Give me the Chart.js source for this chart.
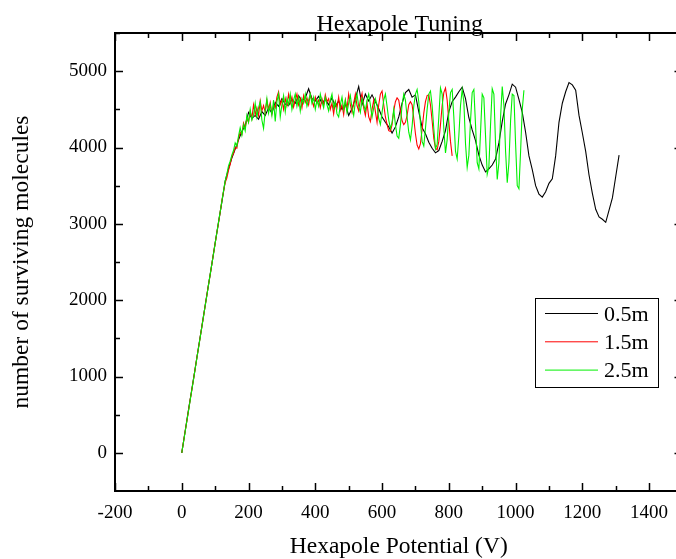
<!DOCTYPE html>
<html><head><meta charset="utf-8">
<script src="https://cdn.jsdelivr.net/npm/chart.js@4/dist/chart.umd.min.js"></script>
<style>html,body{margin:0;padding:0;overflow:hidden;background:#fff}canvas{display:block}</style>
</head><body>
<canvas id="c" width="700" height="559" style="width:700px;height:559px"></canvas>
<script>
// ---- data ----
const chartTitle = 'Hexapole Tuning';
const xAxisTitle = 'Hexapole Potential (V)';
const yAxisTitle = 'number of surviving molecules';
const seriesNames = ['0.5m', '1.5m', '2.5m'];
const seriesColors = ['#000000', '#ff0000', '#00f000'];
const xTickValues = [-200, 0, 200, 400, 600, 800, 1000, 1200, 1400];
const yTickValues = [0, 1000, 2000, 3000, 4000, 5000];
// sampling step of each scan (V)
const stepBlack = 10, stepRed = 5, stepGreen = 5;

const black = [0,280,560,830,1100,1380,1650,1930,2200,2470,
2750,3020,3280,3560,3720,3860,3980,4100,4210,4290,
4460,4380,4420,4370,4470,4420,4520,4450,4590,4540,
4640,4570,4550,4630,4580,4680,4610,4650,4770,4640,
4610,4670,4580,4630,4560,4650,4540,4610,4500,4570,
4420,4510,4640,4800,4560,4700,4610,4690,4600,4510,
4400,4330,4270,4190,4270,4400,4580,4720,4760,4660,
4690,4470,4260,4180,4070,3990,3930,3960,4080,4220,
4470,4600,4660,4730,4790,4640,4390,4230,4090,3900,
3770,3680,3720,3770,3850,4060,4340,4570,4690,4830,
4790,4630,4460,4200,3890,3710,3500,3390,3350,3420,
3530,3590,3890,4330,4580,4730,4850,4820,4750,4420,
4190,3950,3640,3400,3190,3090,3060,3020,3180,3340,
3620,3900];

const red = [0,140,280,410,550,690,820,960,1100,1240,
1370,1510,1650,1780,1920,2060,2200,2330,2470,2610,
2740,2880,3010,3150,3300,3420,3540,3600,3700,3780,
3880,3920,4000,3990,4120,4200,4170,4320,4260,4380,
4330,4470,4380,4560,4430,4520,4420,4610,4480,4550,
4460,4620,4500,4590,4440,4560,4520,4660,4730,4560,
4620,4500,4640,4550,4700,4580,4660,4530,4620,4700,
4560,4640,4520,4680,4590,4650,4560,4700,4610,4540,
4660,4580,4620,4520,4640,4560,4690,4600,4640,4500,
4580,4440,4600,4520,4660,4490,4560,4430,4620,4510,
4700,4560,4460,4580,4700,4550,4480,4620,4710,4520,
4420,4580,4400,4340,4500,4620,4470,4330,4560,4700,
4740,4560,4400,4300,4220,4210,4300,4480,4600,4650,
4620,4480,4350,4300,4330,4420,4560,4600,4560,4380,
4180,4030,3980,4050,4240,4450,4600,4680,4690,4560,
4350,4120,3990,3970,4080,4300,4550,4720,4780,4620,
4340,4080,3890];

const green = [0,135,270,410,545,685,820,955,1095,1235,
1370,1505,1645,1785,1920,2055,2195,2335,2470,2605,
2745,2880,3020,3155,3290,3430,3560,3650,3760,3820,
3900,3960,4060,4020,4150,4260,4160,4300,4220,4420,
4330,4500,4360,4420,4580,4400,4520,4600,4360,4250,
4480,4640,4450,4560,4420,4620,4340,4600,4700,4400,
4560,4680,4470,4640,4560,4700,4500,4620,4700,4540,
4660,4480,4640,4580,4700,4540,4620,4700,4580,4660,
4500,4620,4540,4700,4600,4520,4660,4560,4480,4620,
4700,4520,4600,4440,4400,4560,4660,4500,4620,4460,
4580,4680,4520,4420,4600,4700,4540,4460,4640,4560,
4480,4620,4700,4560,4400,4520,4640,4560,4380,4300,
4460,4620,4700,4540,4360,4250,4330,4500,4300,4150,
4120,4300,4560,4700,4620,4400,4200,4100,4280,4540,
4700,4760,4600,4320,4080,4020,4250,4500,4700,4740,
4550,4250,3980,4040,4400,4780,4700,4250,3930,4100,
4450,4720,4760,4400,3950,3850,4150,4550,4760,4600,
4050,3740,3900,4350,4720,4760,4300,3800,3720,4200,
4700,4650,4150,3650,3750,4300,4770,4700,4050,3580,
3800,4400,4800,4550,3950,3540,3800,4350,4700,4680,
4050,3500,3460,3950,4500,4750];

// ---- chart ----
const FONT = '"Liberation Serif", "Times New Roman", serif';
const toPoints = (arr, step) => arr.map((v, i) => ({x: i * step, y: v}));

const framePlugin = {
  id: 'frame',
  afterDraw(chart) {
    const {ctx, chartArea: a, scales: {x, y}} = chart;
    ctx.save();
    ctx.strokeStyle = '#000';
    ctx.lineWidth = 1.5;
    ctx.beginPath();
    const xs = [];
    xTickValues.forEach(v => { xs.push([v, 8]); xs.push([v + 100, 5]); });
    xs.forEach(([v, len]) => {
      const px = Math.round(x.getPixelForValue(v)) + 0.5;
      ctx.moveTo(px, a.bottom); ctx.lineTo(px, a.bottom - len);
      ctx.moveTo(px, a.top); ctx.lineTo(px, a.top + len);
    });
    const ys = [];
    yTickValues.forEach(v => { ys.push([v, 8]); ys.push([v + 500, 5]); });
    ys.forEach(([v, len]) => {
      const py = Math.round(y.getPixelForValue(v)) + 0.5;
      ctx.moveTo(a.left, py); ctx.lineTo(a.left + len, py);
      ctx.moveTo(a.right, py); ctx.lineTo(a.right - len, py);
    });
    ctx.stroke();
    ctx.lineWidth = 2;
    ctx.strokeRect(a.left, a.top, a.right - a.left, a.bottom - a.top);
    // title
    ctx.fillStyle = '#000';
    ctx.font = '24px ' + FONT;
    ctx.textAlign = 'center';
    ctx.textBaseline = 'alphabetic';
    ctx.fillText(chartTitle, (a.left + a.right) / 2 + 1, a.top - 2);
    // legend
    const bx = 535.5, by = 298.5, bw = 123, bh = 89;
    ctx.fillStyle = '#fff';
    ctx.fillRect(bx, by, bw, bh);
    ctx.lineWidth = 1;
    ctx.strokeRect(bx, by, bw, bh);
    ctx.font = '22px ' + FONT;
    ctx.textAlign = 'left';
    ctx.textBaseline = 'middle';
    chart.data.datasets.forEach((ds, i) => {
      const ly = 313.5 + i * 28.3;
      ctx.strokeStyle = ds.borderColor;
      ctx.beginPath();
      ctx.moveTo(545, ly); ctx.lineTo(598, ly);
      ctx.stroke();
      ctx.fillStyle = '#000';
      ctx.fillText(ds.label, 604, ly + 1.5);
    });
    ctx.restore();
  }
};

new Chart(document.getElementById('c'), {
  type: 'line',
  data: {
    datasets: [
      {label: seriesNames[0], data: toPoints(black, stepBlack), borderColor: seriesColors[0], order: 3},
      {label: seriesNames[1], data: toPoints(red, stepRed), borderColor: seriesColors[1], order: 2},
      {label: seriesNames[2], data: toPoints(green, stepGreen), borderColor: seriesColors[2], order: 1}
    ].map(d => Object.assign(d, {borderWidth: 1.1, pointRadius: 0, tension: 0, fill: false}))
  },
  options: {
    responsive: false,
    animation: false,
    events: [],
    devicePixelRatio: 1,
    layout: {padding: {left: 0, right: 17.5, top: 33, bottom: 0}},
    plugins: {legend: {display: false}, tooltip: {enabled: false}, title: {display: false}},
    scales: {
      x: {
        type: 'linear', min: -200, max: 1500,
        grid: {display: false, drawTicks: false},
        border: {display: false},
        afterBuildTicks: s => { s.ticks = xTickValues.map(v => ({value: v})); },
        afterFit: s => { s.height = 68; },
        ticks: {color: '#000', padding: 11, maxRotation: 0, autoSkip: false,
                font: {family: FONT, size: 19}, callback: v => String(v)},
        title: {display: true, text: xAxisTitle, color: '#000',
                font: {family: FONT, size: 23.5, lineHeight: 1}, padding: {top: 0, bottom: 0}}
      },
      y: {
        type: 'linear', min: -500, max: 5500,
        grid: {display: false, drawTicks: false},
        border: {display: false},
        afterBuildTicks: s => { s.ticks = yTickValues.map(v => ({value: v})); },
        afterFit: s => { s.width = 115; },
        ticks: {color: '#000', padding: 8, autoSkip: false,
                font: {family: FONT, size: 19}, callback: v => String(v)},
        title: {display: true, text: yAxisTitle, color: '#000',
                font: {family: FONT, size: 23.5, lineHeight: 1}, padding: {top: 10, bottom: 0}}
      }
    }
  },
  plugins: [framePlugin]
});
</script>
</body></html>
